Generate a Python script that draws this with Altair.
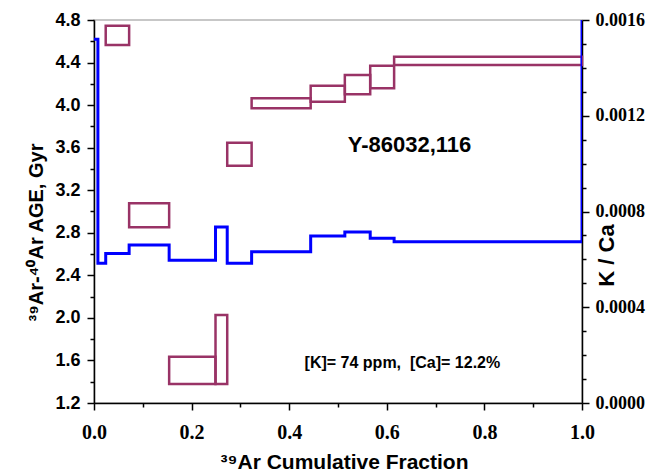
import altair as alt
import pandas as pd

# ---- data ----
# K/Ca step spectrum (step boundaries and values)
kca_x = [0.0, 0.008, 0.024, 0.072, 0.154, 0.249, 0.273, 0.323, 0.444, 0.514, 0.566, 0.615, 1.0, 1.0]
kca_v = [0.00152, 0.000584, 0.000625, 0.00066, 0.000596, 0.000735, 0.000584, 0.000632,
         0.000698, 0.000714, 0.000688, 0.000674, 0.000674, 0.0016]

# Age boxes: fraction start/end, age (Gyr), half-height error
box_x1 = [0.024, 0.072, 0.154, 0.249, 0.273, 0.323, 0.444, 0.514, 0.566, 0.615]
box_x2 = [0.072, 0.154, 0.249, 0.273, 0.323, 0.444, 0.514, 0.566, 0.615, 1.0]
box_age = [4.655, 2.964, 1.507, 1.703, 3.538, 4.017, 4.107, 4.193, 4.264, 4.416]
box_err = [0.090, 0.113, 0.128, 0.324, 0.108, 0.047, 0.075, 0.090, 0.106, 0.039]

# annotations
ann_text = ["Y-86032,116", "[K]= 74 ppm,\u00a0 [Ca]= 12.2%"]
ann_x = [0.6465, 0.632]
ann_y = [3.625, 1.576]
ann_size = [22, 16]

# axis tick values
age_ticks = [1.2, 1.4, 1.6, 1.8, 2.0, 2.2, 2.4, 2.6, 2.8, 3.0, 3.2, 3.4, 3.6, 3.8, 4.0, 4.2, 4.4, 4.6, 4.8]
x_ticks = [0.0, 0.1, 0.2, 0.3, 0.4, 0.5, 0.6, 0.7, 0.8, 0.9, 1.0]
kca_ticks = [0.0, 0.0001, 0.0002, 0.0003, 0.0004, 0.0005, 0.0006, 0.0007, 0.0008,
             0.0009, 0.001, 0.0011, 0.0012, 0.0013, 0.0014, 0.0015, 0.0016]

# ---- tables ----
kca_df = pd.DataFrame({"f": kca_x, "kca": kca_v})
box_df = pd.DataFrame({"x1": box_x1, "x2": box_x2,
                       "lo": [a - e for a, e in zip(box_age, box_err)],
                       "hi": [a + e for a, e in zip(box_age, box_err)]})
ann_df = pd.DataFrame({"t": ann_text, "x": ann_x, "y": ann_y, "s": ann_size})

SANS = "Liberation Sans"
SERIF = "Liberation Serif"
MAROON = "#993366"

x_scale = alt.Scale(domain=[0, 1], nice=False, zero=False)
age_scale = alt.Scale(domain=[1.2, 4.8], nice=False, zero=False)
kca_scale = alt.Scale(domain=[0, 0.0016], nice=False, zero=True)

x_axis = alt.Axis(
    values=x_ticks, title="³⁹Ar Cumulative Fraction",
    labelExpr="round(datum.value*10) % 2 == 0 ? format(datum.value, '.1f') : ''",
    labelFont=SERIF, labelFontWeight="bold", labelFontSize=20, labelColor="black",
    labelPadding=12, labelFlush=False, labelOverlap=False,
    tickSize={"condition": {"test": "round(datum.value*10) % 2 == 0", "value": 7}, "value": 4},
    tickColor="black", tickWidth=1.5, domainColor="black", domainWidth=1.5, grid=False,
    titleFont=SANS, titleFontWeight="bold", titleFontSize=21, titleColor="black",
    titleX=250, titleY=65, titleBaseline="alphabetic", titleAlign="center",
)

age_axis = alt.Axis(
    values=age_ticks, title="³⁹Ar-⁴⁰Ar AGE, Gyr", orient="left",
    labelExpr="round(datum.value*10) % 4 == 0 ? format(datum.value, '.1f') : ''",
    labelFont=SANS, labelFontWeight="bold", labelFontSize=18, labelColor="black",
    labelPadding=7, labelFlush=False, labelOverlap=False,
    tickSize={"condition": {"test": "round(datum.value*10) % 4 == 0", "value": 7}, "value": 4},
    tickColor="black", tickWidth=1.5, domainColor="black", domainWidth=1.5, grid=False,
    titleFont=SANS, titleFontWeight="bold", titleFontSize=20, titleColor="black",
    titleAngle=-90, titleX=-52, titleY=212, titleBaseline="alphabetic", titleAlign="center",
)

kca_axis = alt.Axis(
    values=kca_ticks, title="K / Ca", orient="right",
    labelExpr="round(datum.value*10000) % 4 == 0 ? format(datum.value, '.4f') : ''",
    labelFont=SERIF, labelFontWeight="bold", labelFontSize=18, labelColor="black",
    labelPadding=6, labelFlush=False, labelOverlap=False,
    tickSize={"condition": {"test": "round(datum.value*10000) % 4 == 0", "value": 7}, "value": 4},
    tickColor="black", tickWidth=1.5, domainColor="black", domainWidth=1.5, grid=False,
    titleFont=SANS, titleFontWeight="bold", titleFontSize=22, titleColor="black",
    titleAngle=-90, titleX=31, titleY=235, titleBaseline="alphabetic", titleAlign="center",
)

boxes = alt.Chart(box_df).mark_rect(
    fillOpacity=0, stroke=MAROON, strokeWidth=2.5
).encode(
    x=alt.X("x1:Q", scale=x_scale, axis=x_axis),
    x2="x2:Q",
    y=alt.Y("lo:Q", scale=age_scale, axis=age_axis),
    y2="hi:Q",
)

texts = alt.Chart(ann_df).mark_text(
    font=SANS, fontWeight="bold", color="black", align="center", baseline="middle"
).encode(
    x=alt.X("x:Q", scale=x_scale, axis=x_axis),
    y=alt.Y("y:Q", scale=age_scale, axis=age_axis),
    text="t:N",
    size=alt.Size("s:Q", scale=None, legend=None),
)

age_layer = alt.layer(boxes, texts)

kca_line = alt.Chart(kca_df).mark_line(
    color="#0000FF", strokeWidth=3, interpolate="step-after", clip=True
).encode(
    x=alt.X("f:Q", scale=x_scale, axis=x_axis),
    y=alt.Y("kca:Q", scale=kca_scale, axis=kca_axis),
    order=alt.Order("idx:Q"),
).transform_window(idx="row_number()")

chart = alt.layer(age_layer, kca_line).resolve_scale(y="independent").properties(
    width=488, height=383,
    autosize=alt.AutoSizeParams(type="none"),
    padding={"left": 94, "top": 20, "right": 79, "bottom": 70},
    background="white",
).configure_view(stroke="#b5b5b5", strokeWidth=1.5)

chart.save("out.html", embed_options={"renderer": "svg", "actions": False})
